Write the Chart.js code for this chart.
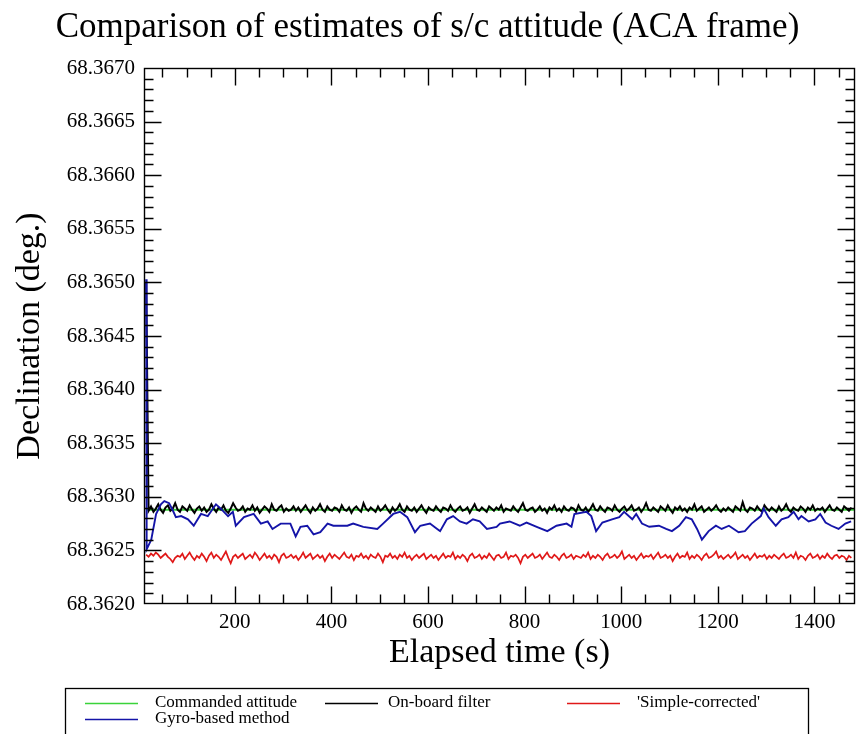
<!DOCTYPE html>
<html>
<head>
<meta charset="utf-8">
<title>Comparison of estimates of s/c attitude</title>
<script src="https://cdn.jsdelivr.net/npm/chart.js@4.4.0/dist/chart.umd.min.js"></script>
<style>
  html, body { margin: 0; padding: 0; background: #fff; }
  #wrap { width: 856px; height: 734px; }
</style>
</head>
<body>
<div id="wrap"><canvas id="attChart" width="856" height="734"></canvas></div>
<script>
// all declinations are stored as offsets above 68.3620 deg, in units of 1e-5 deg
var DEC_BASE = 68.362;
var DEC_UNIT = 1e-5;

// on-board filter and 'simple-corrected' are logged every 5 s from t = 16.5 s
var sampleStart = 16.5;
var sampleStep = 5;

var commandedTime = [16.5, 1484];
var commandedDec = [88, 88];

var onboardDec = [
  300, 87, 91, 86, 89, 93, 88, 85, 90, 92, 87, 89, 94, 88, 86, 91, 89, 87, 92, 88,
  85, 89, 91, 87, 90, 86, 88, 93, 89, 86, 90, 88, 92, 87, 85, 89, 94, 90, 87, 88,
  91, 86, 89, 88, 92, 87, 90, 85, 88, 91, 89, 86, 93, 88, 87, 90, 92, 86, 89, 87,
  88, 91, 87, 90, 86, 89, 92, 88, 85, 90, 87, 89, 93, 88, 86, 91, 88, 87, 90, 89,
  86, 92, 88, 87, 90, 85, 89, 91, 88, 86, 94, 89, 87, 90, 88, 86, 91, 87, 89, 92,
  88, 85, 90, 87, 89, 93, 88, 86, 91, 88, 87, 90, 86, 89, 92, 88, 85, 90, 88, 87,
  91, 88, 86, 90, 89, 87, 92, 88, 86, 89, 91, 87, 88, 90, 85, 89, 93, 88, 87, 90,
  88, 86, 91, 89, 87, 90, 88, 92, 86, 89, 88, 87, 91, 88, 86, 90, 94, 88, 87, 89,
  90, 86, 88, 91, 87, 89, 85, 90, 88, 92, 87, 89, 86, 91, 88, 87, 90, 89, 86, 92,
  88, 87, 90, 86, 89, 93, 88, 87, 91, 88, 86, 90, 89, 87, 92, 88, 86, 89, 91, 87,
  89, 92, 87, 88, 90, 86, 89, 94, 88, 87, 90, 88, 86, 91, 89, 87, 92, 88, 85, 90,
  88, 91, 87, 89, 86, 90, 88, 93, 87, 89, 91, 86, 88, 90, 87, 89, 92, 88, 86, 89,
  87, 90, 88, 86, 91, 89, 87, 95, 88, 86, 90, 89, 87, 91, 88, 86, 92, 89, 87, 90,
  88, 86, 91, 87, 89, 93, 88, 86, 90, 88, 87, 91, 89, 86, 90, 88, 92, 87, 89, 88,
  90, 86, 89, 92, 88, 87, 90, 88, 86, 91, 89, 87, 90
];

var simpleDec = [
  46, 44, 47, 45, 48, 46, 43, 45, 47, 44, 42, 39, 43, 45, 44, 47, 42, 45, 48, 44,
  41, 45, 43, 47, 44, 40, 45, 48, 43, 46, 44, 41, 45, 49, 43, 38, 44, 46, 43, 45,
  47, 42, 44, 46, 43, 48, 45, 41, 44, 47, 43, 45, 42, 46, 44, 39, 45, 47, 43, 44,
  46, 43, 45, 41, 44, 48, 43, 45, 47, 42, 44, 46, 43, 45, 40, 44, 47, 43, 46, 44,
  42, 45, 48, 44, 43, 46, 41, 45, 44, 47, 43, 45, 42, 46, 44, 43, 47, 44, 39, 45,
  44, 47, 43, 45, 42, 46, 44, 48, 43, 45, 41, 44, 46, 43, 45, 47, 42, 44, 46, 43,
  45, 41, 44, 47, 43, 45, 44, 48, 42, 45, 43, 46, 44, 40, 45, 47, 43, 44, 46, 42,
  45, 43, 47, 44, 41, 45, 46, 43, 44, 48, 42, 45, 44, 46, 43, 38, 44, 46, 43, 45,
  47, 43, 44, 46, 42, 45, 48, 44, 43, 46, 44, 41, 45, 47, 43, 44, 46, 42, 45, 44,
  43, 46, 44, 48, 42, 45, 43, 46, 44, 41, 45, 47, 43, 44, 46, 43, 45, 49, 42, 44,
  46, 43, 45, 41, 44, 47, 43, 45, 44, 46, 42, 45, 48, 43, 44, 46, 43, 45, 40, 44,
  47, 43, 45, 44, 48, 42, 45, 43, 46, 44, 41, 45, 47, 43, 44, 46, 49, 43, 45, 42,
  44, 46, 43, 45, 48, 42, 44, 46, 43, 45, 41, 44, 47, 43, 45, 44, 46, 42, 45, 43,
  46, 44, 42, 45, 47, 43, 44, 46, 43, 48, 42, 45, 44, 41, 45, 47, 43, 44, 46, 42,
  45, 43, 47, 44, 42, 45, 46, 43, 45, 44, 41, 45, 43
];

var gyroTime = [
  16.5, 17.5, 27, 37, 47, 54, 64, 72, 78, 89, 103, 115, 130, 144, 161, 171, 186, 196,
  202, 219, 239, 254, 268, 278, 295, 315, 326, 336, 350, 363, 377, 392, 404, 433,
  445, 466, 495, 507, 528, 542, 557, 573, 584, 604, 619, 625, 639, 652, 666, 680,
  693, 707, 722, 742, 749, 769, 790, 804, 825, 847, 866, 887, 897, 903, 928, 938,
  948, 961, 981, 996, 1006, 1023, 1031, 1043, 1058, 1078, 1093, 1105, 1120, 1134,
  1146, 1157, 1167, 1181, 1196, 1208, 1223, 1243, 1256, 1270, 1289, 1295, 1305,
  1320, 1332, 1346, 1357, 1367, 1373, 1388, 1402, 1412, 1423, 1435, 1450, 1464, 1476
];
var gyroDec = [
  303, 51, 60, 84, 93, 96, 94, 87, 81, 82, 79, 73, 84, 82, 93, 89, 82, 86,
  73, 81, 84, 75, 77, 70, 75, 75, 63, 72, 73, 65, 67, 75, 73, 73,
  75, 72, 70, 75, 84, 86, 81, 67, 73, 75, 70, 68, 79, 82, 77, 75,
  79, 77, 70, 72, 75, 77, 73, 76, 72, 68, 73, 75, 72, 84, 86, 82,
  68, 76, 79, 81, 86, 79, 84, 75, 72, 73, 70, 68, 73, 81,
  79, 70, 60, 68, 73, 70, 73, 67, 68, 75, 82, 89, 81,
  73, 79, 81, 86, 79, 82, 77, 79, 84, 76, 73, 70, 75, 77
];

var xMin = 12, xMax = 1484, xStep = 200, xMinor = 50;
var yMin = 68.3620, yMax = 68.3670, yStep = 0.0005, yMinor = 0.0001;

var serif = "'Liberation Serif', 'DejaVu Serif', serif";

function toPoints(times, offsets) {
  return offsets.map(function(v, i) {
    return { x: times[i], y: DEC_BASE + v * DEC_UNIT };
  });
}
function sampledPoints(offsets) {
  return offsets.map(function(v, i) {
    return { x: sampleStart + i * sampleStep, y: DEC_BASE + v * DEC_UNIT };
  });
}

var legendItems = [
  { label: 'Commanded attitude', color: '#3ad33a', col: 0, row: 0 },
  { label: 'On-board filter', color: '#000000', col: 1, row: 0 },
  { label: "'Simple-corrected'", color: '#e01818', col: 2, row: 0 },
  { label: 'Gyro-based method', color: '#1414a8', col: 0, row: 1 }
];

// frame + inward ticks on all four sides, like the original plot
var frameTicks = {
  id: 'frameTicks',
  afterDatasetsDraw: function(chart) {
    var ctx = chart.ctx, a = chart.chartArea;
    var xs = chart.scales.x, ys = chart.scales.y;
    var L = Math.round(a.left) + 0.5, R = Math.round(a.right) - 0.5;
    var T = Math.round(a.top) + 0.5, B = Math.round(a.bottom) - 0.5;
    ctx.save();
    ctx.strokeStyle = '#000';
    ctx.lineWidth = 1.4;
    ctx.strokeRect(L, T, R - L, B - T);
    ctx.beginPath();
    var v, px, len;
    for (v = 50; v < xMax; v += xMinor) {
      if (v < xMin) continue;
      px = Math.round(xs.getPixelForValue(v)) + 0.5;
      len = (v % xStep === 0) ? 17 : 9;
      ctx.moveTo(px, B); ctx.lineTo(px, B - len);
      ctx.moveTo(px, T); ctx.lineTo(px, T + len);
    }
    for (var k = 1; k < 50; k++) {
      v = yMin + k * yMinor;
      px = Math.round(ys.getPixelForValue(v)) + 0.5;
      len = (k % 5 === 0) ? 17 : 9;
      ctx.moveTo(L, px); ctx.lineTo(L + len, px);
      ctx.moveTo(R, px); ctx.lineTo(R - len, px);
    }
    ctx.stroke();
    ctx.restore();
  },
  afterDraw: function(chart) {
    var ctx = chart.ctx;
    var boxL = 65.5, boxT = 688.5, boxR = 808.5;
    var colX = [85, 325, 567];
    var rowY = [703, 719];
    ctx.save();
    ctx.strokeStyle = '#000';
    ctx.lineWidth = 1.3;
    ctx.strokeRect(boxL, boxT, boxR - boxL, 80);
    ctx.font = '17px ' + serif;
    ctx.textBaseline = 'middle';
    ctx.fillStyle = '#000';
    legendItems.forEach(function(it) {
      var x0 = colX[it.col], y0 = rowY[it.row];
      ctx.strokeStyle = it.color;
      ctx.lineWidth = 1.5;
      ctx.beginPath();
      ctx.moveTo(x0, y0 + 0.5); ctx.lineTo(x0 + 53, y0 + 0.5);
      ctx.stroke();
      ctx.fillText(it.label, x0 + (it.col === 1 ? 63 : 70), y0);
    });
    ctx.restore();
  }
};

var ctx = document.getElementById('attChart').getContext('2d');
var attChart = new Chart(ctx, {
  type: 'line',
  data: {
    datasets: [
      { label: legendItems[0].label, data: toPoints(commandedTime, commandedDec),
        borderColor: legendItems[0].color, borderWidth: 2, order: 3 },
      { label: legendItems[1].label, data: sampledPoints(onboardDec),
        borderColor: legendItems[1].color, borderWidth: 2, order: 2 },
      { label: legendItems[2].label, data: sampledPoints(simpleDec),
        borderColor: legendItems[2].color, borderWidth: 1.7, order: 1 },
      { label: legendItems[3].label, data: toPoints(gyroTime, gyroDec),
        borderColor: legendItems[3].color, borderWidth: 1.9, order: 0 }
    ]
  },
  options: {
    responsive: false,
    animation: false,
    devicePixelRatio: 1,
    parsing: false,
    layout: { padding: { left: 0, right: 1, top: 0, bottom: 0 } },
    elements: { point: { radius: 0 }, line: { tension: 0, fill: false } },
    plugins: {
      legend: { display: false },
      tooltip: { enabled: false },
      title: {
        display: true,
        text: 'Comparison of estimates of s/c attitude (ACA frame)',
        color: '#000',
        font: { family: serif, size: 35, weight: 'normal', lineHeight: 1.2 },
        padding: { top: 7, bottom: 19 }
      }
    },
    scales: {
      x: {
        type: 'linear', min: xMin, max: xMax,
        grid: { display: false, drawTicks: false },
        border: { display: false },
        ticks: {
          stepSize: xStep, includeBounds: false, autoSkip: false, maxRotation: 0,
          color: '#000', padding: 6,
          font: { family: serif, size: 21 },
          callback: function(v) { return String(v); }
        },
        title: {
          display: true, text: 'Elapsed time (s)', color: '#000',
          font: { family: serif, size: 34, lineHeight: 1.2 },
          padding: { top: 0, bottom: 61 }
        },
        afterFit: function(scale) { scale.height = 130; }
      },
      y: {
        type: 'linear', min: yMin, max: yMax,
        grid: { display: false, drawTicks: false },
        border: { display: false },
        ticks: {
          stepSize: yStep, autoSkip: false, color: '#000', padding: 9,
          font: { family: serif, size: 21 },
          callback: function(v) { return Number(v).toFixed(4); }
        },
        title: {
          display: true, text: 'Declination (deg.)', color: '#000',
          font: { family: serif, size: 34, lineHeight: 1.2 },
          padding: { top: 10, bottom: 0 }
        },
        afterFit: function(scale) { scale.width = 144; }
      }
    }
  },
  plugins: [frameTicks]
});
</script>
</body>
</html>
